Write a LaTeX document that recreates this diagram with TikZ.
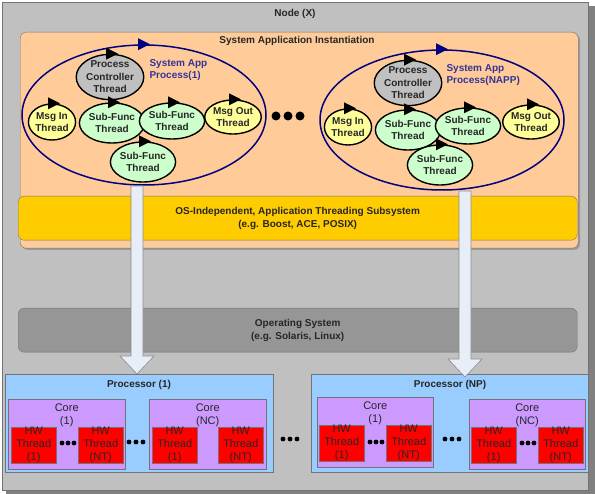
\documentclass[tikz,border=0pt]{standalone}
\usepackage{fontspec}
\setmainfont{Liberation Sans}
\usetikzlibrary{shapes.geometric,positioning,calc}

\definecolor{nodegray}{HTML}{C0C0C0}
\definecolor{appfill}{HTML}{FFCC99}
\definecolor{subsys}{HTML}{FFCC00}
\definecolor{osgray}{HTML}{969696}
\definecolor{procblue}{HTML}{99CCFF}
\definecolor{corepurple}{HTML}{CC99FF}
\definecolor{hwred}{HTML}{FF0000}
\definecolor{procnavy}{HTML}{000080}
\definecolor{labelblue}{HTML}{333399}
\definecolor{msgyellow}{HTML}{FFFF99}
\definecolor{funcgreen}{HTML}{CCFFCC}
\definecolor{arrowfill}{HTML}{E8EEF8}

\begin{document}
\begin{tikzpicture}[x=1pt,y=-1pt,
    txt/.style={font=\bfseries\fontsize{10}{12.5}\selectfont, align=center, text=black!85},
    plain/.style={font=\fontsize{11}{13}\selectfont, align=center, text=black!85},
    panel/.style={draw=black!55, anchor=north west, inner sep=0pt},
    thread/.style={ellipse, draw=black, line width=1.4pt, inner sep=0pt, txt},
    process/.style={ellipse, draw=procnavy, line width=1.5pt, inner sep=0pt,
        minimum width=244pt, minimum height=140pt},
    hwthread/.style={panel, fill=hwred, minimum width=45pt, minimum height=36pt},
    core/.style={panel, fill=corepurple, minimum width=117pt, minimum height=70pt},
    bigarrow/.style={fill=arrowfill, draw=black!45, line width=0.6pt}]

    \useasboundingbox (0,0) rectangle (595,494);

    % Node (X)
    \fill[black!50] (6,6) rectangle (595,494);
    \node[panel, fill=nodegray, line width=1pt, minimum width=586pt, minimum height=488pt] (nodex) at (2,2) {};
    \node[txt] (nodextitle) at (295,14) {Node (X)};

    % System application instantiation
    \fill[black!40, rounded corners=6pt] (22,34) rectangle (580,250);
    \node[panel, fill=appfill, rounded corners=6pt, minimum width=558pt, minimum height=216pt] (app) at (20,32) {};
    \node[txt] (apptitle) at (297,41) {System Application Instantiation};

    % Processes
    \node[process] (app1) at (144,115) {};
    \node[process] (app2) at (442,120) {};
    \foreach \p in {app1,app2}
        \fill[procnavy] (\p.north) ++(-6,-6) -- ++(12,6) -- ++(-12,6) -- cycle;
    \node[txt, text=labelblue, align=left, anchor=west] (app1lbl) at (146,70) {System App\\Process(1)};
    \node[txt, text=labelblue, align=left, anchor=west] (app2lbl) at (443,75) {System App\\Process(NAPP)};

    % Threads of process 1
    \node[thread, fill=nodegray, minimum width=66pt, minimum height=44pt] (pct1) at (110,77) {Process\\Controller\\Thread};
    \node[thread, fill=msgyellow, minimum width=44pt, minimum height=36pt] (mi1) at (52,122) {Msg In\\Thread};
    \node[thread, fill=funcgreen, minimum width=54pt, minimum height=40pt] (sf1a) at (112,123) {Sub-Func\\Thread};
    \node[thread, fill=funcgreen, minimum width=52pt, minimum height=36pt] (sf1b) at (172,121) {Sub-Func\\Thread};
    \node[thread, fill=msgyellow, minimum width=54pt, minimum height=34pt] (mo1) at (233,117) {Msg Out\\Thread};
    \node[thread, fill=funcgreen, minimum width=56pt, minimum height=40pt] (sf1c) at (143,162) {Sub-Func\\Thread};

    % Threads of process NAPP
    \node[thread, fill=nodegray, minimum width=66pt, minimum height=44pt] (pct2) at (408,83) {Process\\Controller\\Thread};
    \node[thread, fill=msgyellow, minimum width=44pt, minimum height=36pt] (mi2) at (348,127) {Msg In\\Thread};
    \node[thread, fill=funcgreen, minimum width=54pt, minimum height=40pt] (sf2a) at (408,130) {Sub-Func\\Thread};
    \node[thread, fill=funcgreen, minimum width=52pt, minimum height=36pt] (sf2b) at (468,126) {Sub-Func\\Thread};
    \node[thread, fill=msgyellow, minimum width=54pt, minimum height=34pt] (mo2) at (531,122) {Msg Out\\Thread};
    \node[thread, fill=funcgreen, minimum width=56pt, minimum height=40pt] (sf2c) at (440,165) {Sub-Func\\Thread};

    \foreach \t in {pct1,mi1,sf1a,sf1b,mo1,sf1c,pct2,mi2,sf2a,sf2b,mo2,sf2c}
        \fill (\t.north) ++(-4,-6) -- ++(12,6) -- ++(-12,6) -- cycle;

    % dots between processes
    \foreach \x in {276,288,300}
        \fill (\x,116) circle (4.5);

    % Threading subsystem and OS
    \node[panel, fill=subsys, rounded corners=6pt, minimum width=559pt, minimum height=44pt] (subsys) at (18,196) {};
    \node[txt] (subsyslbl) at (subsys.center) {OS-Independent, Application Threading Subsystem\\(e.g. Boost, ACE, POSIX)};
    \node[panel, fill=osgray, rounded corners=6pt, minimum width=559pt, minimum height=44pt] (os) at (18,308) {};
    \node[txt] (oslbl) at (os.center) {Operating System\\(e.g. Solaris, Linux)};

    % Processors
    \node[panel, fill=procblue, minimum width=268pt, minimum height=98pt] (proc1) at (5,374) {};
    \node[txt] (proc1lbl) at (139,385) {Processor (1)};
    \node[panel, fill=procblue, minimum width=277pt, minimum height=98pt] (procnp) at (311,374) {};
    \node[txt] (procnplbl) at (450,385) {Processor (NP)};

    % Cores
    \node[core] (c11) at (8,399) {};
    \node[core] (c1n) at (149,399) {};
    \node[core, minimum width=116pt] (cn1) at (317,397) {};
    \node[core, minimum width=116pt] (cnn) at (469,399) {};
    \node[plain] (c11lbl) at ($(c11.north)+(0,16)$) {Core\\(1)};
    \node[plain] (c1nlbl) at ($(c1n.north)+(0,16)$) {Core\\(NC)};
    \node[plain] (cn1lbl) at ($(cn1.north)+(0,16)$) {Core\\(1)};
    \node[plain] (cnnlbl) at ($(cnn.north)+(0,16)$) {Core\\(NC)};

    % HW threads
    \node[hwthread] (h111) at (11,427) {};
    \node[hwthread] (h11n) at (78,427) {};
    \node[hwthread] (h1n1) at (152,427) {};
    \node[hwthread] (h1nn) at (218,427) {};
    \node[hwthread] (hn11) at (319,425) {};
    \node[hwthread] (hn1n) at (386,425) {};
    \node[hwthread] (hnn1) at (471,427) {};
    \node[hwthread] (hnnn) at (538,427) {};
    \foreach \h in {h111,h1n1,hn11,hnn1}
        \node[plain] at (\h.center) {HW\\Thread\\(1)};
    \foreach \h in {h11n,h1nn,hn1n,hnnn}
        \node[plain] at (\h.center) {HW\\Thread\\(NT)};

    % dots
    \foreach \x/\y in {62/443,68/443,74/443, 129/442,136/442,143/442,
                       522/443,528/443,534/443, 370/442,376/442,382/442,
                       445/439,452/439,459/439, 283/439,290/439,297/439}
        \fill (\x,\y) circle (2.4);

    % Mapping arrows
    \coordinate (a1) at (137,186);
    \coordinate (a2) at (465,191);
    \coordinate (t1) at (a1 |- proc1.north);
    \coordinate (t2) at ($(a2 |- procnp.north)+(0,3)$);
    \foreach \s/\t in {a1/t1,a2/t2}
        \draw[bigarrow] ($(\s)+(-6,0)$) -- ($(\t)+(-6,-18)$) -- ($(\t)+(-17,-18)$) -- (\t)
            -- ($(\t)+(17,-18)$) -- ($(\t)+(6,-18)$) -- ($(\s)+(6,0)$) -- cycle;
\end{tikzpicture}
\end{document}
